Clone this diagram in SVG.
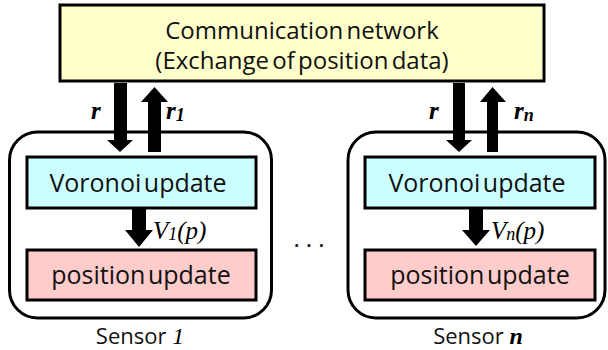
<svg xmlns="http://www.w3.org/2000/svg" width="608" height="350" viewBox="0 0 608 350">
<style>
.box{stroke:#000;stroke-width:3}
.t{font-family:"Open Sans","Noto Sans",sans-serif;fill:#111;text-anchor:middle}
.b{font-size:25px;word-spacing:-4px}
.m{font-family:"Liberation Serif","DejaVu Serif",serif;font-style:italic;fill:#000}
.arr{fill:#000}
</style>
<rect width="608" height="350" fill="#fff"/>
<g id="network">
<rect class="box" x="60" y="5" width="484" height="76" fill="#FFFFCC"/>
<text class="t" x="302" y="39" font-size="24" word-spacing="-3">Communication network</text>
<text class="t" x="302" y="69" font-size="24" word-spacing="-3">(Exchange of position data)</text>
</g>
<g id="sensor1">
<rect class="box" x="9.5" y="132" width="262" height="186" rx="28" fill="#fff"/>
<text class="t" x="140" y="344" font-size="22">Sensor <tspan class="m" font-size="24">1</tspan></text>
</g>
<g id="voronoi1">
<rect class="box" x="27" y="157" width="229" height="51" fill="#CCFFFF"/>
<text class="t b" x="138" y="192">Voronoi update</text>
</g>
<g id="position1">
<rect class="box" x="27" y="250" width="229" height="50" fill="#FFCCCC"/>
<text class="t b" x="141" y="284">position update</text>
</g>
<g id="sensorn">
<rect class="box" x="348" y="132" width="257" height="186" rx="28" fill="#fff"/>
<text class="t" x="478" y="344" font-size="22">Sensor <tspan class="m" font-size="24" font-weight="bold">n</tspan></text>
</g>
<g id="voronoin">
<rect class="box" x="365" y="157" width="230" height="51" fill="#CCFFFF"/>
<text class="t b" x="477" y="192">Voronoi update</text>
</g>
<g id="positionn">
<rect class="box" x="365" y="250" width="230" height="50" fill="#FFCCCC"/>
<text class="t b" x="480" y="284">position update</text>
</g>
<text class="t" x="312" y="247" font-size="24" letter-spacing="6">...</text>
<g id="connectors">
<path class="arr" d="M114,83 H127 V140 H133 L120,152 L107,140 H114 Z"/>
<path class="arr" d="M148,152 H161 V102 H168 L154.5,87 L141,102 H148 Z"/>
<path class="arr" d="M453,83 H465 V140 H472 L459,152 L446,140 H453 Z"/>
<path class="arr" d="M487,152 H498 V102 H506 L492.5,87 L480,102 H487 Z"/>
<path class="arr" d="M132,209 H146 V230 H153 L139,247 L125,230 H132 Z"/>
<path class="arr" d="M469,209 H483 V230 H490 L476,246 L462,230 H469 Z"/>
<text class="m" x="91" y="119" font-size="25" font-weight="bold">r</text>
<text class="m" x="166" y="119" font-size="25" font-weight="bold">r<tspan font-size="18" dy="2">1</tspan></text>
<text class="m" x="429" y="119" font-size="25" font-weight="bold">r</text>
<text class="m" x="514" y="119" font-size="25" font-weight="bold">r<tspan font-size="18" dy="2">n</tspan></text>
<text class="m" x="153" y="239" font-size="25">V<tspan font-size="18" dy="1">1</tspan><tspan dy="-1">(p)</tspan></text>
<text class="m" x="491" y="239" font-size="25">V<tspan font-size="18" dy="1">n</tspan><tspan dy="-1">(p)</tspan></text>
</g>
</svg>
